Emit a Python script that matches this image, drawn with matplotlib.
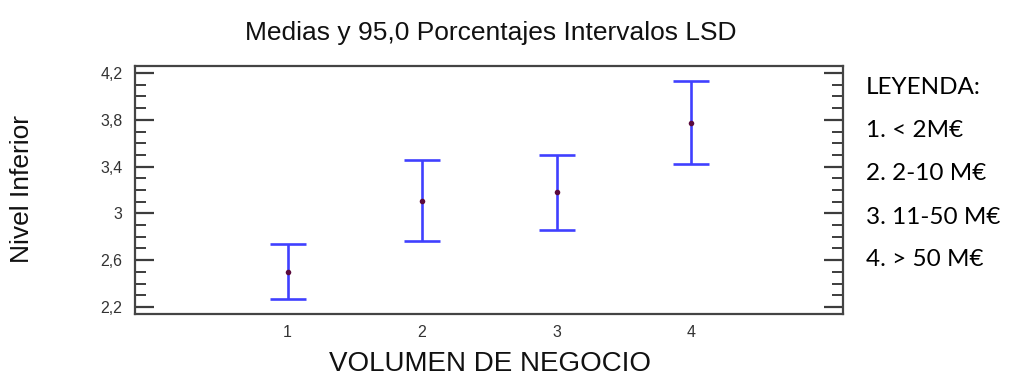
import matplotlib
matplotlib.use("Agg")
import matplotlib.pyplot as plt
from matplotlib.ticker import MultipleLocator, FixedLocator
import numpy as np

# Group means with their 95% LSD interval bounds
groups = [1, 2, 3, 4]
group_labels = ["1", "2", "3", "4"]
means = [2.50, 3.11, 3.18, 3.77]
lower = [2.27, 2.76, 2.86, 3.42]
upper = [2.74, 3.46, 3.50, 4.13]

y_ticks = [2.2, 2.6, 3.0, 3.4, 3.8, 4.2]
y_tick_labels = ["2,2", "2,6", "3", "3,4", "3,8", "4,2"]

legend_lines = ["LEYENDA:", "1. < 2M€", "2. 2-10 M€", "3. 11-50 M€", "4. > 50 M€"]

W, H = 1028, 376
fig = plt.figure(figsize=(W / 100, H / 100), dpi=100)
ax = fig.add_axes([135 / W, (H - 314) / H, (843 - 135) / W, (314 - 66) / H])

means_arr = np.array(means)
yerr = np.vstack([means_arr - np.array(lower), np.array(upper) - means_arr])

ax.errorbar(groups, means, yerr=yerr, fmt="none", ecolor="#4040ff",
            elinewidth=1.9, capsize=13, capthick=1.9, zorder=2)
ax.scatter(groups, means, s=16, color="#5a0a3c", zorder=3, linewidths=0)

ax.set_xlim(-0.135, 5.13)
ax.set_ylim(2.14, 4.26)

ax.xaxis.set_major_locator(FixedLocator(groups))
ax.set_xticklabels(group_labels)
ax.yaxis.set_major_locator(FixedLocator(y_ticks))
ax.set_yticklabels(y_tick_labels)
ax.yaxis.set_minor_locator(MultipleLocator(0.1))

tick_col = "#3c3c3c"
ax.tick_params(axis="x", which="both", length=0, pad=8, labelsize=11.5,
               labelcolor="#333333")
ax.tick_params(axis="y", which="major", direction="in", length=14, width=1.6,
               color=tick_col, left=True, right=True, pad=9, labelsize=11.5,
               labelcolor="#333333")
ax.tick_params(axis="y", which="minor", direction="in", length=8, width=1.4,
               color=tick_col, left=True, right=True)
for lbl in ax.get_xticklabels() + ax.get_yticklabels():
    lbl.set_family("Liberation Sans")

for s in ax.spines.values():
    s.set_color("#444444")
    s.set_linewidth(1.6)

fig.text(491 / W, 1 - 33 / H, "Medias y 95,0 Porcentajes Intervalos LSD",
         ha="center", va="center", fontsize=19, family="Liberation Sans",
         color="#111111")
fig.text(490 / W, 1 - 364 / H, "VOLUMEN DE NEGOCIO", ha="center", va="center",
         fontsize=20, family="Liberation Sans", color="#111111")
fig.text(22 / W, 1 - 189 / H, "Nivel Inferior", ha="center", va="center",
         rotation=90, fontsize=19, family="Liberation Sans", color="#111111")

for i, line in enumerate(legend_lines):
    fig.text(866 / W, 1 - (88 + 43 * i) / H, line, ha="left", va="center",
             fontsize=17.5, family="Lato", color="#000000")

fig.savefig("out.png", dpi=100)
